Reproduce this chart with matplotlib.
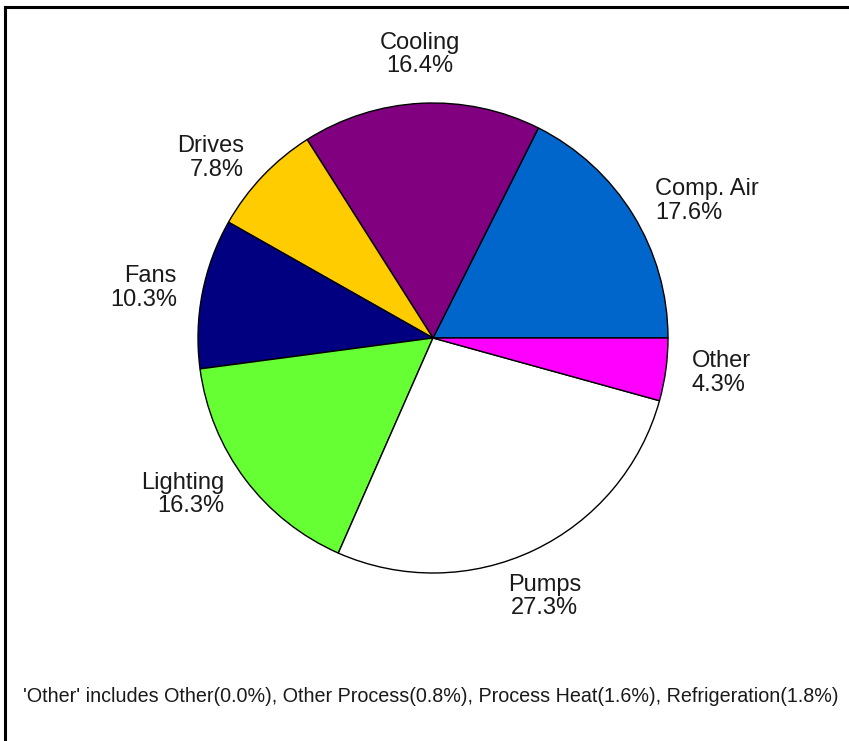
import numpy as np
import matplotlib; matplotlib.use('Agg')
import matplotlib.pyplot as plt

# End-use shares of motor system energy (percent)
categories = ['Comp. Air', 'Cooling', 'Drives', 'Fans', 'Lighting', 'Pumps', 'Other']
shares = [17.6, 16.4, 7.8, 10.3, 16.3, 27.3, 4.3]
colors = ['#0066cc', '#800080', '#ffcc00', '#000080', '#66ff33', '#ffffff', '#ff00ff']

other_parts = ['Other', 'Other Process', 'Process Heat', 'Refrigeration']
other_shares = [0.0, 0.8, 1.6, 1.8]

plt.rcParams['font.family'] = ['Liberation Sans', 'DejaVu Sans']

W, H = 849, 741
fig = plt.figure(figsize=(W / 100, H / 100), dpi=100)
ax = fig.add_axes([0, 0, 1, 1])

cx, cy, r = 433, H - 338, 235
wedges, _ = ax.pie(shares, colors=colors, startangle=0, counterclock=True,
                   center=(cx, cy), radius=r,
                   wedgeprops=dict(edgecolor='black', linewidth=1.0))
ax.set_xlim(0, W)
ax.set_ylim(0, H)
ax.set_aspect('equal')
ax.axis('off')

# category labels just outside each wedge
for w, name, v in zip(wedges, categories, shares):
    ang = np.deg2rad((w.theta1 + w.theta2) / 2)
    c, s = np.cos(ang), np.sin(ang)
    x, y = cx + 1.11 * r * c, cy + 1.11 * r * s
    if abs(c) < 0.5:
        ha, va = 'center', ('bottom' if s > 0 else 'top')
    else:
        ha, va = ('left' if c > 0 else 'right'), 'center'
    ax.text(x, y, f'{name}\n{v:.1f}%', ha=ha, va=va, fontsize=17,
            color='#1a1a1a', linespacing=1.1)

note = "'Other' includes " + ', '.join(f'{n}({v:.1f}%)' for n, v in zip(other_parts, other_shares))
ax.text(23, H - 697, note, ha='left', va='center', fontsize=14.2, color='#1a1a1a')

# frame lines along the left and top edges
ax.plot([5, 5], [0, H - 7], color='black', linewidth=2.2, solid_capstyle='projecting')
ax.plot([5, W], [H - 7, H - 7], color='black', linewidth=2.2, solid_capstyle='projecting')

fig.savefig('out.png', dpi=100, facecolor='white')
